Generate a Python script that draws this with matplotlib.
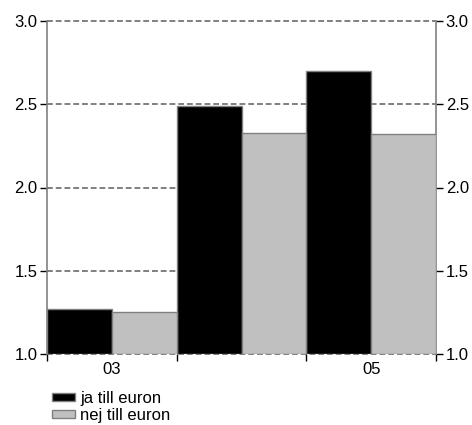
import matplotlib
matplotlib.use("Agg")
import matplotlib.pyplot as plt
import numpy as np

plt.rcParams['font.family'] = ['Liberation Sans', 'DejaVu Sans']

groups = ["03", "", "05"]
ja_values = [1.27, 2.49, 2.70]
nej_values = [1.25, 2.33, 2.32]
series_labels = ["ja till euron", "nej till euron"]
y_ticks = [1.0, 1.5, 2.0, 2.5, 3.0]

GRAY = "#808080"

fig = plt.figure(figsize=(4.72, 4.25), dpi=100)
ax = fig.add_axes([47 / 472, 1 - 354 / 425, (436 - 47) / 472, (354 - 21) / 425])

x = np.arange(len(groups))
w = 0.5
ax.bar(x - w / 2, [v - 1.0 for v in ja_values], w, bottom=1.0, color="black",
       edgecolor=GRAY, linewidth=1.0, label=series_labels[0], zorder=3)
ax.bar(x + w / 2, [v - 1.0 for v in nej_values], w, bottom=1.0, color="#c0c0c0",
       edgecolor=GRAY, linewidth=1.0, label=series_labels[1], zorder=3)

ax.set_xlim(-0.5, len(groups) - 0.5)
ax.set_ylim(1.0, 3.0)

# horizontal dashed grid
for yv in y_ticks:
    ax.axhline(yv, color=GRAY, linestyle=(0, (3, 1.5)), linewidth=1.4, zorder=1,
               clip_on=False)

# y axis labels on both sides
ax.set_yticks(y_ticks)
ax.set_yticklabels([f"{v:.1f}" for v in y_ticks])
ax.tick_params(axis="y", which="major", direction="out", length=5, width=1,
               color="black", labelsize=12, left=True, right=True,
               labelleft=True, labelright=True, pad=2)

# x: ticks at group boundaries, labels at group centres
ax.set_xticks(np.arange(-0.5, len(groups), 1.0))
ax.set_xticklabels([])
ax.set_xticks(x, minor=True)
ax.set_xticklabels(groups, minor=True)
ax.tick_params(axis="x", which="major", direction="out", length=5, width=1, color="black")
ax.tick_params(axis="x", which="minor", length=0, labelsize=12, pad=6)

for side in ["left", "right"]:
    ax.spines[side].set_color(GRAY)
    ax.spines[side].set_linewidth(1.2)
ax.spines["top"].set_visible(False)
ax.spines["bottom"].set_visible(False)

fig.legend(loc="upper left", bbox_to_anchor=(52 / 472, 1 - 391 / 425),
           frameon=False, fontsize=12, handlelength=1.4, handleheight=0.42,
           handletextpad=0.3, labelspacing=0.12, borderpad=0, borderaxespad=0)

fig.savefig("out.png", dpi=100)
